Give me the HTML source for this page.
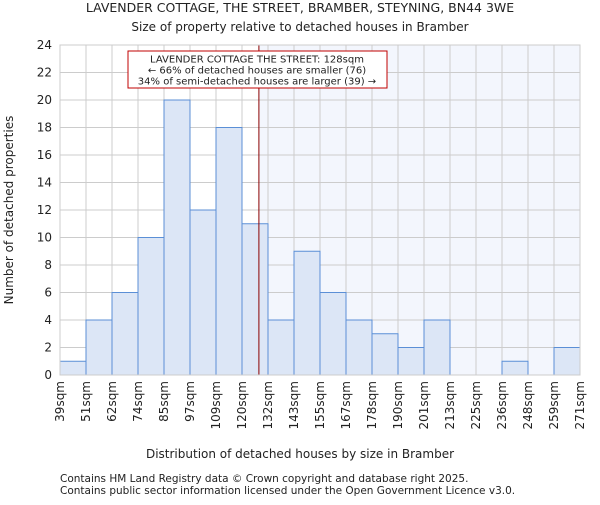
<!DOCTYPE html>
<html><head><meta charset="utf-8"><style>body{margin:0;background:#fff}svg text{font-family:"DejaVu Sans","Liberation Sans",sans-serif;fill:#222}</style></head>
<body>
<svg id="c" width="600" height="500" xmlns="http://www.w3.org/2000/svg">
<text x="300" y="12" text-anchor="middle" font-size="12.5">LAVENDER COTTAGE, THE STREET, BRAMBER, STEYNING, BN44 3WE</text>
<text x="300" y="31" text-anchor="middle" font-size="12">Size of property relative to detached houses in Bramber</text>
<g id="plot"></g>
<text x="300" y="458" text-anchor="middle" font-size="12">Distribution of detached houses by size in Bramber</text>
<text transform="translate(13,210) rotate(-90)" text-anchor="middle" font-size="12">Number of detached properties</text>
<text x="60" y="482" font-size="10.5">Contains HM Land Registry data © Crown copyright and database right 2025.</text>
<text x="60" y="494" font-size="10.5">Contains public sector information licensed under the Open Government Licence v3.0.</text>
</svg>
<script>
const categories=["39sqm","51sqm","62sqm","74sqm","85sqm","97sqm","109sqm","120sqm","132sqm","143sqm","155sqm","167sqm","178sqm","190sqm","201sqm","213sqm","225sqm","236sqm","248sqm","259sqm","271sqm"];
const counts=[1,4,6,10,20,12,18,11,4,9,6,4,3,2,4,0,0,1,0,2];
const yTicks=[0,2,4,6,8,10,12,14,16,18,20,22,24];
const propertyBinPos=7.65;
const NS="http://www.w3.org/2000/svg";
const L=60,R=580,T=45,B=375,yMax=24;
const bw=(R-L)/counts.length;
const xs=i=>L+i*bw, ys=v=>B-(v/yMax)*(B-T);
const g=document.getElementById('plot');
function mk(t,a){const e=document.createElementNS(NS,t);for(const k in a)e.setAttribute(k,a[k]);g.appendChild(e);return e;}
const px=xs(propertyBinPos);
let e=mk('rect',{x:px,y:T,width:R-px,height:B-T,fill:'#f3f6fd'});

yTicks.forEach(v=>{let l=mk('line',{x1:L,x2:R,y1:ys(v),y2:ys(v),stroke:'#ccc','stroke-width':1});

let t=mk('text',{x:L-8,y:ys(v)+4,'text-anchor':'end','font-size':12});t.textContent=v;
});
categories.forEach((c,i)=>{let l=mk('line',{x1:xs(i),x2:xs(i),y1:T,y2:B,stroke:'#ccc','stroke-width':1});

let t=mk('text',{transform:`translate(${xs(i)+4},${B+6}) rotate(-90)`,'text-anchor':'end','font-size':12});t.textContent=c;
});
counts.forEach((v,i)=>{if(!v)return;let r=mk('rect',{x:xs(i),y:ys(v),width:bw,height:B-ys(v),fill:'#dce6f6',stroke:'#5b8fd6','stroke-width':1});
});
e=mk('line',{x1:px,x2:px,y1:T,y2:B,stroke:'#8b0000','stroke-width':1});

e=mk('rect',{x:128,y:51,width:259,height:37,fill:'#fff',stroke:'#c00000','stroke-width':1});

["LAVENDER COTTAGE THE STREET: 128sqm","← 66% of detached houses are smaller (76)","34% of semi-detached houses are larger (39) →"].forEach((s,k)=>{
let t=mk('text',{x:257,y:62.5+k*11,'text-anchor':'middle','font-size':10});t.textContent=s;
});
e=mk('rect',{x:L,y:T,width:R-L,height:B-T,fill:'none',stroke:'#ccc'});

</script>
</body></html>
